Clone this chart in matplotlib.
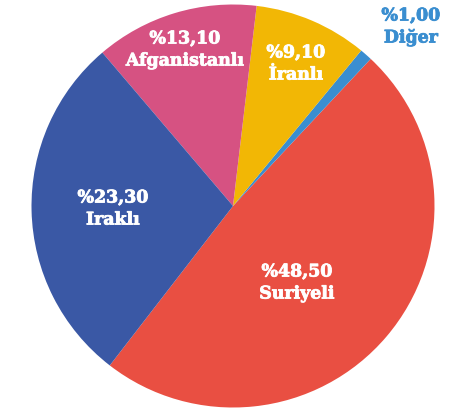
import matplotlib
matplotlib.use("Agg")
import matplotlib.pyplot as plt
import matplotlib.patheffects as pe

# Data
categories = ["Suriyeli", "Diğer", "İranlı", "Afganistanlı", "Iraklı"]
label_values = [48.5, 1.0, 9.1, 13.1, 23.3]       # printed shares
slice_values = [48.5, 1.0, 9.1, 13.1, 28.3]       # wedge sizes as drawn in the picture
colors = ["#E94F42", "#3A8ED0", "#F2B705", "#D65282", "#3A58A5"]

W, H = 464, 410
fig = plt.figure(figsize=(W / 100, H / 100), dpi=100)
cx, cy, r = 233, 207, 201.5
ax = fig.add_axes([(cx - r) / W, (H - cy - r) / H, 2 * r / W, 2 * r / H])
ax.pie(slice_values, colors=colors, startangle=232.3, counterclock=True,
       wedgeprops=dict(linewidth=0))
ax.set_xlim(-1, 1)
ax.set_ylim(-1, 1)
ax.set_aspect("auto")
ax.axis("off")

# label positions in pixels (x, y of first line)
label_pos = {
    "Suriyeli": (297, 273, "white"),
    "Diğer": (411, 17, "#3A8ED0"),
    "İranlı": (296, 54, "white"),
    "Afganistanlı": (185, 40, "white"),
    "Iraklı": (113, 199, "white"),
}
font = dict(family="DejaVu Serif", weight="bold", fontsize=12.5)
for cat, val in zip(categories, label_values):
    x, y, c = label_pos[cat]
    pct = "%" + f"{val:.2f}".replace(".", ",")
    eff = [pe.withStroke(linewidth=0.6, foreground=c)]
    fig.text(x / W, 1 - y / H, pct, ha="center", va="center", color=c,
             path_effects=eff, **font)
    fig.text(x / W, 1 - (y + 22) / H, cat, ha="center", va="center", color=c,
             path_effects=eff, **font)

fig.savefig("out.png", dpi=100)
